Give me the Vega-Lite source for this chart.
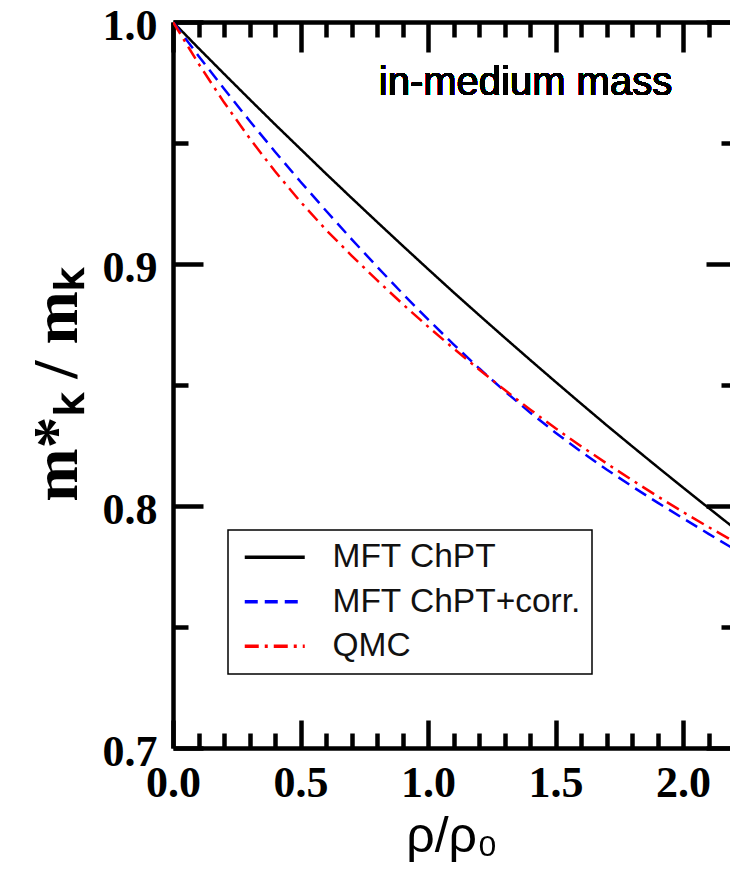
{
  "$schema": "https://vega.github.io/schema/vega-lite/v6.json",
  "width": 557,
  "height": 726,
  "autosize": {"type": "none"},
  "padding": {"left": 173, "top": 22, "right": 0, "bottom": 131},
  "background": "white",
  "config": {
    "view": {"stroke": null},
    "axis": {"grid": false, "domainColor": "black", "tickColor": "black", "labelColor": "black", "titleColor": "black"},
    "legend": {
      "orient": "none", "legendX": 55, "legendY": 508,
      "strokeColor": "black", "strokeWidth": 1.5, "fillColor": "white",
      "padding": 10.5, "labelFont": "Liberation Sans", "labelFontSize": 33.5, "labelColor": "#111", "labelLimit": 500,
      "symbolType": "M-3,0H3", "symbolSize": 400, "symbolStrokeWidth": 3.5,
      "rowPadding": 9.5, "labelOffset": 41, "symbolOffset": 19.5
    }
  },
  "data": {"values": [
    {"rho": 0.0, "v": 1.0, "s": "MFT ChPT"},
    {"rho": 0.1, "v": 0.9892, "s": "MFT ChPT"},
    {"rho": 0.2, "v": 0.9786, "s": "MFT ChPT"},
    {"rho": 0.3, "v": 0.9681, "s": "MFT ChPT"},
    {"rho": 0.4, "v": 0.9577, "s": "MFT ChPT"},
    {"rho": 0.5, "v": 0.9475, "s": "MFT ChPT"},
    {"rho": 0.6, "v": 0.9373, "s": "MFT ChPT"},
    {"rho": 0.7, "v": 0.9273, "s": "MFT ChPT"},
    {"rho": 0.8, "v": 0.9174, "s": "MFT ChPT"},
    {"rho": 0.9, "v": 0.9076, "s": "MFT ChPT"},
    {"rho": 1.0, "v": 0.8979, "s": "MFT ChPT"},
    {"rho": 1.1, "v": 0.8883, "s": "MFT ChPT"},
    {"rho": 1.2, "v": 0.8789, "s": "MFT ChPT"},
    {"rho": 1.3, "v": 0.8696, "s": "MFT ChPT"},
    {"rho": 1.4, "v": 0.8604, "s": "MFT ChPT"},
    {"rho": 1.5, "v": 0.8513, "s": "MFT ChPT"},
    {"rho": 1.6, "v": 0.8423, "s": "MFT ChPT"},
    {"rho": 1.7, "v": 0.8334, "s": "MFT ChPT"},
    {"rho": 1.8, "v": 0.8247, "s": "MFT ChPT"},
    {"rho": 1.9, "v": 0.8161, "s": "MFT ChPT"},
    {"rho": 2.0, "v": 0.8076, "s": "MFT ChPT"},
    {"rho": 2.1, "v": 0.7992, "s": "MFT ChPT"},
    {"rho": 2.2, "v": 0.7909, "s": "MFT ChPT"},
    {"rho": 0.0, "v": 1.0, "s": "MFT ChPT+corr."},
    {"rho": 0.1, "v": 0.986, "s": "MFT ChPT+corr."},
    {"rho": 0.2, "v": 0.9724, "s": "MFT ChPT+corr."},
    {"rho": 0.3, "v": 0.9592, "s": "MFT ChPT+corr."},
    {"rho": 0.4, "v": 0.9464, "s": "MFT ChPT+corr."},
    {"rho": 0.5, "v": 0.934, "s": "MFT ChPT+corr."},
    {"rho": 0.6, "v": 0.922, "s": "MFT ChPT+corr."},
    {"rho": 0.7, "v": 0.9103, "s": "MFT ChPT+corr."},
    {"rho": 0.8, "v": 0.8989, "s": "MFT ChPT+corr."},
    {"rho": 0.9, "v": 0.8878, "s": "MFT ChPT+corr."},
    {"rho": 1.0, "v": 0.8771, "s": "MFT ChPT+corr."},
    {"rho": 1.1, "v": 0.8668, "s": "MFT ChPT+corr."},
    {"rho": 1.2, "v": 0.8569, "s": "MFT ChPT+corr."},
    {"rho": 1.3, "v": 0.8475, "s": "MFT ChPT+corr."},
    {"rho": 1.4, "v": 0.8386, "s": "MFT ChPT+corr."},
    {"rho": 1.5, "v": 0.8303, "s": "MFT ChPT+corr."},
    {"rho": 1.6, "v": 0.8225, "s": "MFT ChPT+corr."},
    {"rho": 1.7, "v": 0.8151, "s": "MFT ChPT+corr."},
    {"rho": 1.8, "v": 0.8081, "s": "MFT ChPT+corr."},
    {"rho": 1.9, "v": 0.8014, "s": "MFT ChPT+corr."},
    {"rho": 2.0, "v": 0.7949, "s": "MFT ChPT+corr."},
    {"rho": 2.1, "v": 0.7885, "s": "MFT ChPT+corr."},
    {"rho": 2.2, "v": 0.7822, "s": "MFT ChPT+corr."},
    {"rho": 0.0, "v": 1.0, "s": "QMC"},
    {"rho": 0.1, "v": 0.9828, "s": "QMC"},
    {"rho": 0.2, "v": 0.9668, "s": "QMC"},
    {"rho": 0.3, "v": 0.952, "s": "QMC"},
    {"rho": 0.4, "v": 0.9383, "s": "QMC"},
    {"rho": 0.5, "v": 0.9257, "s": "QMC"},
    {"rho": 0.6, "v": 0.9141, "s": "QMC"},
    {"rho": 0.7, "v": 0.9035, "s": "QMC"},
    {"rho": 0.8, "v": 0.8933, "s": "QMC"},
    {"rho": 0.9, "v": 0.8835, "s": "QMC"},
    {"rho": 1.0, "v": 0.8741, "s": "QMC"},
    {"rho": 1.1, "v": 0.8651, "s": "QMC"},
    {"rho": 1.2, "v": 0.8564, "s": "QMC"},
    {"rho": 1.3, "v": 0.848, "s": "QMC"},
    {"rho": 1.4, "v": 0.8399, "s": "QMC"},
    {"rho": 1.5, "v": 0.8321, "s": "QMC"},
    {"rho": 1.6, "v": 0.8247, "s": "QMC"},
    {"rho": 1.7, "v": 0.8176, "s": "QMC"},
    {"rho": 1.8, "v": 0.8107, "s": "QMC"},
    {"rho": 1.9, "v": 0.804, "s": "QMC"},
    {"rho": 2.0, "v": 0.7975, "s": "QMC"},
    {"rho": 2.1, "v": 0.7913, "s": "QMC"},
    {"rho": 2.2, "v": 0.7853, "s": "QMC"}
  ]},
  "layer": [
    {
      "mark": {"type": "line", "clip": true, "strokeWidth": 2.5},
      "encoding": {
        "x": {"field": "rho", "type": "quantitative",
          "scale": {"domain": [0, 2.184], "nice": false, "zero": false},
          "axis": {"orient": "bottom", "values": [0, 0.5, 1, 1.5, 2], "format": ".1f",
            "tickSize": -28, "tickWidth": 4.5, "domainWidth": 4.5,
            "labelFont": "Liberation Serif", "labelFontWeight": "bold", "labelFontSize": 44,
            "labelPadding": 41, "labelFlush": false, "labelOverlap": false, "labelBound": false,
            "title": "ρ/ρ₀", "titleFont": "Liberation Sans", "titleFontWeight": "normal", "titleFontSize": 50, "titlePadding": 6}},
        "y": {"field": "v", "type": "quantitative",
          "scale": {"domain": [0.7, 1.0], "nice": false, "zero": false},
          "axis": {"orient": "left", "values": [0.7, 0.8, 0.9, 1.0], "format": ".1f",
            "tickSize": -30, "tickWidth": 4.5, "domainWidth": 4.5,
            "labelFont": "Liberation Serif", "labelFontWeight": "bold", "labelFontSize": 44, "labelOffset": 4,
            "labelPadding": 46, "labelFlush": false, "labelOverlap": false, "labelBound": false,
            "title": "m*ₖ / mₖ", "titleFont": "Liberation Serif", "titleFontWeight": "bold", "titleFontSize": 64, "titlePadding": 13}},
        "color": {"field": "s", "type": "nominal",
          "scale": {"domain": ["MFT ChPT", "MFT ChPT+corr.", "QMC"], "range": ["#000000", "#0000ff", "#ff0000"]},
          "legend": {"title": null}},
        "strokeDash": {"field": "s", "type": "nominal",
          "scale": {"domain": ["MFT ChPT", "MFT ChPT+corr.", "QMC"], "range": [[1, 0], [13, 7], [14, 6, 3, 6]]},
          "legend": {"title": null}}
      }
    },
    {
      "mark": {"type": "point", "opacity": 0},
      "encoding": {
        "x": {"field": "rho", "type": "quantitative",
          "axis": {"orient": "bottom", "values": [0.1, 0.2, 0.3, 0.4, 0.6, 0.7, 0.8, 0.9, 1.1, 1.2, 1.3, 1.4, 1.6, 1.7, 1.8, 1.9, 2.1],
            "tickSize": -15, "tickWidth": 4.5, "domain": false, "labels": false, "title": null}},
        "y": {"field": "v", "type": "quantitative",
          "axis": {"orient": "left", "values": [0.75, 0.85, 0.95],
            "tickSize": -15, "tickWidth": 4.5, "domain": false, "labels": false, "title": null}}
      }
    },
    {
      "mark": {"type": "point", "opacity": 0},
      "encoding": {
        "x": {"field": "rho", "type": "quantitative",
          "axis": {"orient": "top", "values": [0, 0.5, 1, 1.5, 2],
            "tickSize": -30, "tickWidth": 4.5, "domainWidth": 4.5, "labels": false, "title": null}},
        "y": {"field": "v", "type": "quantitative",
          "axis": {"orient": "right", "offset": 6, "values": [0.7, 0.8, 0.9, 1.0],
            "tickSize": -30, "tickWidth": 4.5, "domain": false, "labels": false, "title": null}}
      }
    },
    {
      "mark": {"type": "point", "opacity": 0},
      "encoding": {
        "x": {"field": "rho", "type": "quantitative",
          "axis": {"orient": "top", "values": [0.1, 0.2, 0.3, 0.4, 0.6, 0.7, 0.8, 0.9, 1.1, 1.2, 1.3, 1.4, 1.6, 1.7, 1.8, 1.9, 2.1],
            "tickSize": -15, "tickWidth": 4.5, "domain": false, "labels": false, "title": null}},
        "y": {"field": "v", "type": "quantitative",
          "axis": {"orient": "right", "offset": 6, "values": [0.75, 0.85, 0.95],
            "tickSize": -15, "tickWidth": 4.5, "domain": false, "labels": false, "title": null}}
      }
    },
    {
      "mark": {"type": "text", "font": "Liberation Sans", "fontSize": 40, "align": "center", "baseline": "alphabetic", "color": "black"},
      "encoding": {
        "x": {"datum": 1.382, "type": "quantitative", "axis": null},
        "y": {"datum": 0.9698, "type": "quantitative", "axis": null},
        "text": {"value": "in-medium mass"}
      }
    }
  ],
  "resolve": {"axis": {"x": "independent", "y": "independent"}}
}
